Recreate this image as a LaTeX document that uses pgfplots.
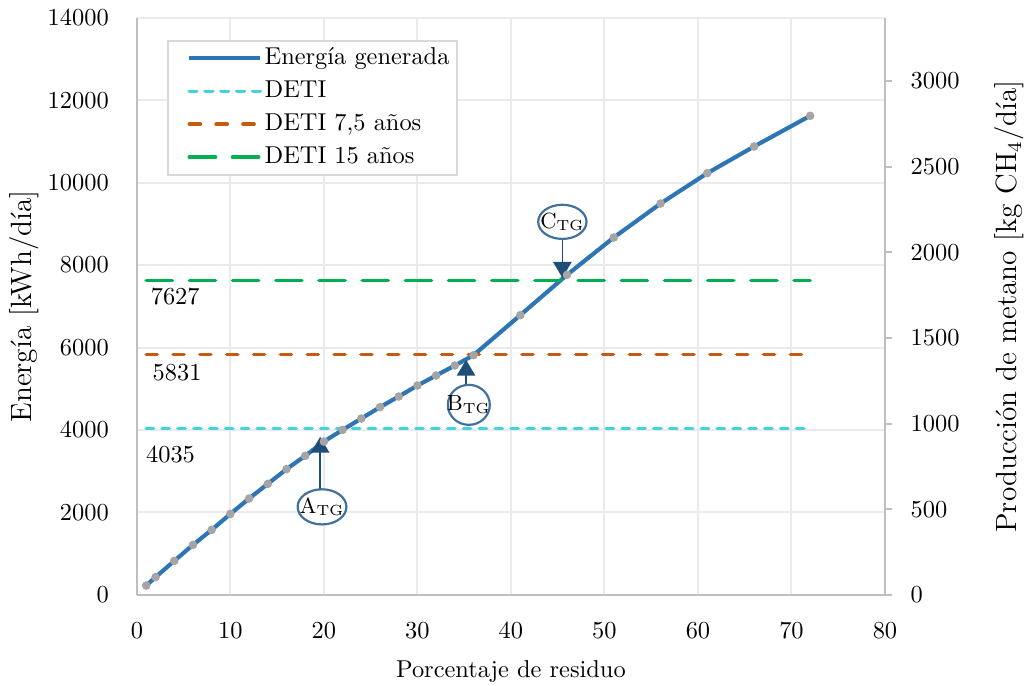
\documentclass[border=0pt]{standalone}
\usepackage{fontspec}
\usepackage{pgfplots}
\pgfplotsset{compat=1.18}
\usetikzlibrary{arrows.meta}

\definecolor{energia}{HTML}{2E75B6}
\definecolor{deti}{HTML}{42D3E0}
\definecolor{detisiete}{HTML}{C55A11}
\definecolor{detiquince}{HTML}{00B050}
\definecolor{puntos}{HTML}{A5A5A5}
\definecolor{ejes}{HTML}{BFBFBF}
\definecolor{rejilla}{HTML}{EBEBEB}
\definecolor{marco}{HTML}{D9D9D9}
\definecolor{elipse}{HTML}{41719C}
\definecolor{flecha}{HTML}{1F4E79}

\begin{document}
\begin{tikzpicture}
\begin{axis}[
  scale only axis, width=306.6pt, height=236.5pt,
  xmin=0, xmax=80, ymin=0, ymax=14000,
  xtick={0,10,...,80}, ytick={0,2000,...,14000},
  axis x line*=bottom, axis y line*=left,
  axis line style={draw=ejes, line width=0.9pt},
  major tick length=0pt,
  grid=major, major grid style={draw=rejilla, line width=0.8pt},
  scaled y ticks=false,
  yticklabel style={/pgf/number format/1000 sep={}, xshift=-8pt},
  xticklabel style={yshift=-8pt},
  clip=false,
  legend cell align=left,
  legend style={at={(rel axis cs:0.04,0.962)}, anchor=north west,
    draw=marco, line width=0.8pt, inner xsep=2pt, inner ysep=0.5pt,
    row sep=0pt,
    nodes={inner xsep=1pt, inner ysep=1.75pt, text height=7.5pt, text depth=2.5pt}},
  legend image code/.code={\path (0pt,0pt); \draw[#1] (6pt,0pt) -- (35pt,0pt);},
]
% energy produced vs. residue share
\addplot[energia, line width=1.7pt, line join=round] coordinates {
  (1,226) (2,430) (4,825) (6,1213) (8,1577) (10,1965) (12,2337) (14,2693)
  (16,3050) (18,3373) (20,3720) (22,4003) (24,4278) (26,4554) (28,4812)
  (30,5079) (32,5322) (34,5564) (36,5815) (41,6786) (46,7764) (51,8670)
  (56,9494) (61,10231) (66,10878) (72,11622)};
\addlegendentry{Energía generada}
\addplot[deti, line width=1.5pt, line cap=round, dash pattern=on 3pt off 3.5pt]
  coordinates {(1,4035) (72,4035)};
\addlegendentry{DETI}
\addplot[detisiete, line width=1.5pt, line cap=round, dash pattern=on 4.5pt off 6.5pt]
  coordinates {(1,5831) (72,5831)};
\addlegendentry{DETI 7,5 años}
\addplot[detiquince, line width=1.5pt, line cap=round, dash pattern=on 10.7pt off 7pt]
  coordinates {(1,7627) (72,7627)};
\addlegendentry{DETI 15 años}
% sample points on the curve
\addplot[only marks, mark=*, mark size=1.55pt, puntos, forget plot] coordinates {
  (1,226) (2,430) (4,825) (6,1213) (8,1577) (10,1965) (12,2337) (14,2693)
  (16,3050) (18,3373) (20,3720) (22,4003) (24,4278) (26,4554) (28,4812)
  (30,5079) (32,5322) (34,5564) (36,5815) (41,6786) (46,7764) (51,8670)
  (56,9494) (61,10231) (66,10878) (72,11622)};

% threshold values
\node at (axis cs:4.1,7230) {7627};
\node at (axis cs:4.3,5387) {5831};
\node at (axis cs:3.6,3397) {4035};

% crossing points
\draw[flecha, line width=0.7pt, -{Triangle[length=6.5pt,width=7.5pt]}]
  (axis cs:19.6,2548) -- (axis cs:19.6,3834);
\draw[elipse, line width=0.9pt, fill=white] (axis cs:19.8,2135) ellipse [x radius=10pt, y radius=7.2pt];
\node[font=\small] at (axis cs:19.8,2135) {A$_{\mathrm{TG}}$};

\draw[flecha, line width=0.7pt, -{Triangle[length=6.5pt,width=7.5pt]}]
  (axis cs:35.2,5047) -- (axis cs:35.2,5702);
\draw[elipse, line width=0.9pt, fill=white] (axis cs:35.5,4610) ellipse [x radius=8.6pt, y radius=8.2pt];
\node[font=\small] at (axis cs:35.5,4610) {B$_{\mathrm{TG}}$};

\draw[flecha, line width=0.7pt, -{Triangle[length=6.5pt,width=7.5pt]}]
  (axis cs:45.5,8638) -- (axis cs:45.5,7692);
\draw[elipse, line width=0.9pt, fill=white] (axis cs:45.5,9050) ellipse [x radius=9.9pt, y radius=7pt];
\node[font=\small] at (axis cs:45.5,9050) {C$_{\mathrm{TG}}$};

% axis titles
\path (rel axis cs:0.5,0) ++(0,-31.6pt) node {Porcentaje de residuo};
\path (rel axis cs:0,0.5) ++(-46pt,0) node[rotate=90, font=\large] {Energía [kWh/día]};
\end{axis}

% methane production scale
\begin{axis}[
  scale only axis, width=306.6pt, height=236.5pt,
  xmin=0, xmax=80, ymin=0, ymax=3368,
  hide x axis, axis y line*=right,
  axis line style={draw=ejes, line width=0.9pt},
  ytick={0,500,...,3000},
  tick align=outside, major tick length=3pt,
  tick style={draw=ejes, line width=0.8pt},
  scaled y ticks=false,
  yticklabel style={/pgf/number format/1000 sep={}, xshift=4pt},
  clip=false,
]
\addplot[draw=none, forget plot] coordinates {(0,0) (80,3368)};
\path (rel axis cs:1,0.5) ++(51pt,0) node[rotate=90, font=\large] {Producción de metano [kg CH$_4$/día]};
\end{axis}

\pgfresetboundingbox
\path[use as bounding box] (-56.1pt,-37.3pt) rectangle (364.8pt,243.8pt);
\end{tikzpicture}
\end{document}
